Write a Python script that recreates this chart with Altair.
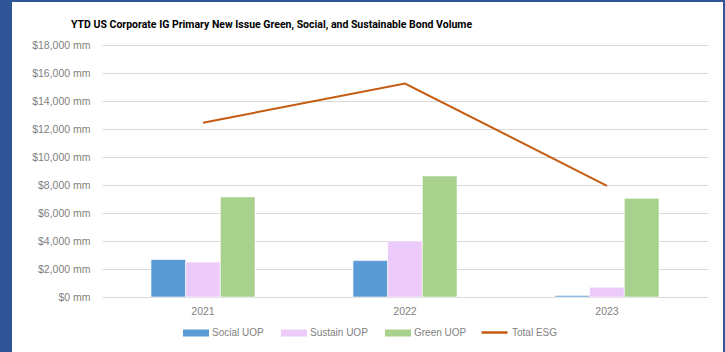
import altair as alt
import pandas as pd

# Year-to-date issuance, US$ millions
years = ["2021", "2022", "2023"]
social_uop = [2680, 2600, 100]
sustain_uop = [2500, 4000, 700]
green_uop = [7150, 8650, 7050]
total_esg = [12450, 15250, 7940]

series_names = ["Social UOP", "Sustain UOP", "Green UOP"]
series_colors = ["#5B9BD5", "#ECCBFB", "#A9D18E"]
line_name = "Total ESG"
line_color = "#C55A11"

bars_df = pd.DataFrame(
    [
        {"year": y, "series": name, "value": v}
        for name, vals in zip(series_names, [social_uop, sustain_uop, green_uop])
        for y, v in zip(years, vals)
    ]
)
line_df = pd.DataFrame({"year": years, "value": total_esg, "series": [line_name] * len(years)})
frame_df = pd.DataFrame({"k": [0]})

FONT = "Liberation Sans"
GREY = "#7F7F7F"
RECT_PATH = "M-1,-0.27H1V0.27H-1Z"

x_axis = alt.Axis(
    title=None, labelAngle=0, ticks=False, domain=False, labelPadding=9,
    labelFont=FONT, labelFontSize=10.5, labelColor=GREY,
)
y_axis = alt.Axis(
    title=None, values=list(range(0, 18001, 2000)),
    labelExpr="'$' + format(datum.value, ',') + ' mm'",
    labelOverlap=False, ticks=False, domain=False, labelPadding=12,
    gridColor="#D9D9D9", gridWidth=1.2,
    labelFont=FONT, labelFontSize=10.5, labelColor=GREY,
)
x_scale = alt.Scale(paddingInner=0.485, paddingOuter=0.2425)
y_scale = alt.Scale(domain=[0, 18000], nice=False)

bars = alt.Chart(bars_df).mark_bar(stroke="white", strokeWidth=0.6).encode(
    x=alt.X("year:N", sort=years, scale=x_scale, axis=x_axis),
    xOffset=alt.XOffset("series:N", sort=series_names),
    y=alt.Y("value:Q", scale=y_scale, axis=y_axis),
    color=alt.Color(
        "series:N",
        sort=series_names,
        scale=alt.Scale(domain=series_names, range=series_colors),
        legend=alt.Legend(
            title=None, orient="none", direction="horizontal",
            legendX=81, legendY=275,
            symbolType=RECT_PATH, symbolSize=676, symbolStrokeWidth=0,
            labelFont=FONT, labelFontSize=10, labelColor=GREY,
            labelOffset=3, columnPadding=17,
        ),
    ),
)

line = alt.Chart(line_df).mark_line(strokeWidth=2).encode(
    x=alt.X("year:N", sort=years, scale=x_scale, axis=x_axis),
    y=alt.Y("value:Q", scale=y_scale, axis=y_axis),
    stroke=alt.Stroke(
        "series:N",
        scale=alt.Scale(domain=[line_name], range=[line_color]),
        legend=alt.Legend(
            title=None, orient="none", direction="horizontal",
            legendX=378, legendY=273,
            symbolType="stroke", symbolSize=676, symbolStrokeWidth=2.5,
            labelFont=FONT, labelFontSize=10, labelColor=GREY,
            labelOffset=3,
        ),
    ),
)

# Dark blue frame strips around the white chart panel
frame_color = "#2F5597"
frame_left = alt.Chart(frame_df).mark_rect(color=frame_color).encode(
    x=alt.value(-102), x2=alt.value(-90), y=alt.value(-45), y2=alt.value(307)
)
frame_right = alt.Chart(frame_df).mark_rect(color=frame_color).encode(
    x=alt.value(621), x2=alt.value(623), y=alt.value(-45), y2=alt.value(307)
)
frame_top = alt.Chart(frame_df).mark_rect(color=frame_color).encode(
    x=alt.value(-102), x2=alt.value(623), y=alt.value(-45), y2=alt.value(-43)
)

chart = (
    alt.layer(bars, line, frame_left, frame_right, frame_top)
    .resolve_scale(color="independent", stroke="independent")
    .properties(
        width=606,
        height=252,
        autosize=alt.AutoSizeParams(type="none"),
        padding={"left": 102, "top": 45, "right": 17, "bottom": 55},
        background="white",
        title=alt.TitleParams(
            "YTD US Corporate IG Primary New Issue Green, Social, and Sustainable Bond Volume",
            anchor="start", frame="group", dx=-31, dy=30, offset=0,
            font="Roboto", fontSize=10.5, fontWeight="bold", color="#000000",
        ),
    )
    .configure_view(stroke=None)
)

chart.save("out.html", embed_options={"renderer": "svg", "actions": False})
